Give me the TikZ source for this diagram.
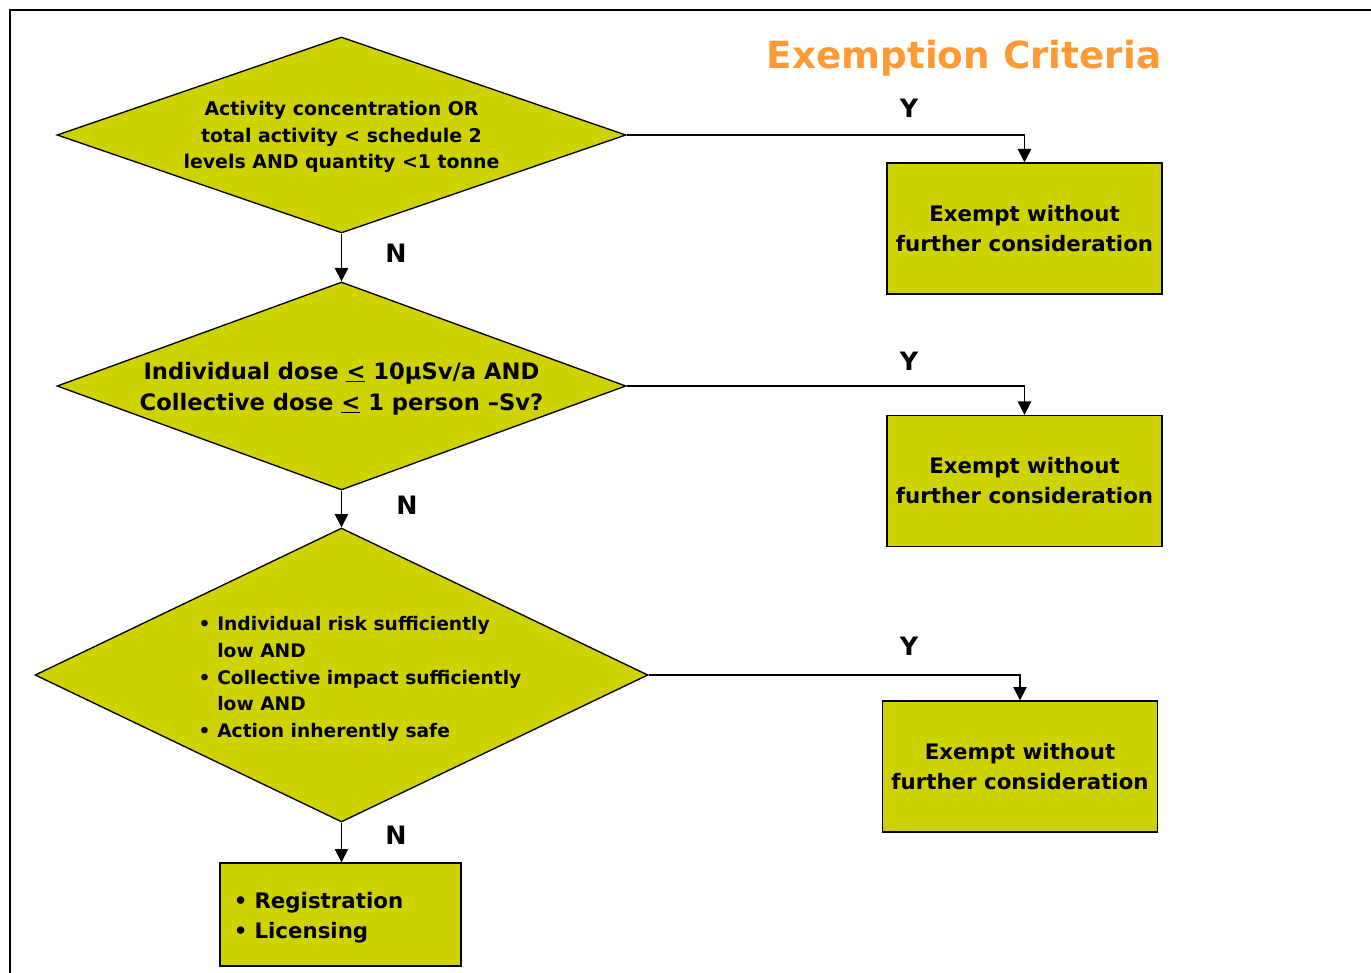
\documentclass[tikz,border=0pt]{standalone}
\usepackage{fontspec}
\setmainfont{DejaVu Sans}
\usetikzlibrary{shapes.geometric,arrows.meta}

\definecolor{critfill}{RGB}{205,210,0}
\definecolor{titleorange}{RGB}{255,153,51}

\tikzset{every picture/.style={line width=1pt}}
\tikzset{
	decision/.style={diamond, draw, fill=critfill, inner sep=0pt, align=center},
	outcome/.style={rectangle, draw, fill=critfill, inner sep=0pt, align=center,
		minimum width=206.25pt, minimum height=98.25pt,
		font=\fontsize{16}{22.5}\selectfont\bfseries},
	yesno/.style={inner sep=0.75pt, font=\fontsize{19}{22}\selectfont\bfseries},
	flow/.style={-{Triangle[length=10pt,width=10pt]}},
}
\newcommand{\critbullet}{\makebox[14pt][l]{\textbullet}}

\begin{document}
\begin{tikzpicture}[x=0.75pt,y=0.75pt,yscale=-1,xscale=1]
	\useasboundingbox (0,0) rectangle (1371,973);
	
	%Straight Lines [id:frame]
	\draw [line width=1.5pt]  (10,973) -- (10,10) -- (1371,10) ;
	
	% Text Node
	\node [text=titleorange, font=\fontsize{28}{32}\selectfont\bfseries] (title) at (964,58) {Exemption Criteria};
	
	%Shape: Diamond [id:first test]
	\node [decision, aspect=2.9, minimum width=426.75pt, minimum height=147pt] (crit1) at (341.5,135) {};
	% Text Node
	\node [align=center, inner sep=0pt, font=\fontsize{14.2}{19.9}\selectfont\bfseries] (crit1txt) at (341.5,137)
		{Activity concentration OR\\ total activity < schedule 2\\ levels AND quantity <1 tonne};
	%Shape: Diamond [id:second test]
	\node [decision, aspect=2.74, minimum width=426.75pt, minimum height=156pt] (crit2) at (341.5,386) {};
	% Text Node
	\node [align=center, inner sep=0pt, font=\fontsize{17}{23.25}\selectfont\bfseries] (crit2txt) at (341.5,389)
		{Individual dose \underline{<} 10μSv/a AND\\ Collective dose \underline{<} 1 person –Sv?};
	%Shape: Diamond [id:third test]
	\node [decision, aspect=2.085, minimum width=459.75pt, minimum height=220.5pt] (crit3) at (341.5,675) {};
	% Text Node
	\node [align=left, inner sep=0pt, font=\fontsize{14}{20}\selectfont\bfseries] (crit3txt) at (360,679)
		{\critbullet Individual risk sufficiently\\ \hspace*{14pt}low AND\\ \critbullet Collective impact sufficiently\\ \hspace*{14pt}low AND\\ \critbullet Action inherently safe};
	
	%Shape: Rectangle [id:exempt boxes]
	\node [outcome] (exempt1) at (1024.5,228.5) {Exempt without\\ further consideration};
	\node [outcome] (exempt2) at (1024.5,481) {Exempt without\\ further consideration};
	\node [outcome] (exempt3) at (1020,766.5) {Exempt without\\ further consideration};
	%Shape: Rectangle [id:control box]
	\node [outcome, minimum width=180.75pt, minimum height=77.25pt] (control) at (340.5,914.5) {};
	% Text Node
	\node [align=left, inner sep=0pt, text width=160pt, font=\fontsize{16}{22.5}\selectfont\bfseries] (controltxt) at (340.5,918)
		{\textbullet\ Registration\\ \textbullet\ Licensing};
	
	%Straight Lines [id:yes branches]
	\draw [flow]  (crit1.east) -| (exempt1.north) ;
	\draw [flow]  (crit2.east) -| (exempt2.north) ;
	\draw [flow]  (crit3.east) -| (exempt3.north) ;
	%Straight Lines [id:no branches]
	\draw [flow]  (crit1.south) -- (crit2.north) ;
	\draw [flow]  (crit2.south) -- (crit3.north) ;
	\draw [flow]  (crit3.south) -- (crit3.south |- control.north) ;
	
	% Text Node
	\node [yesno] (yes1) at (909,108) {Y};
	% Text Node
	\node [yesno] (yes2) at (909,361) {Y};
	% Text Node
	\node [yesno] (yes3) at (909,646) {Y};
	% Text Node
	\node [yesno] (no1) at (396,253) {N};
	% Text Node
	\node [yesno] (no2) at (407,505) {N};
	% Text Node
	\node [yesno] (no3) at (396,835) {N};
	
\end{tikzpicture}
\end{document}
